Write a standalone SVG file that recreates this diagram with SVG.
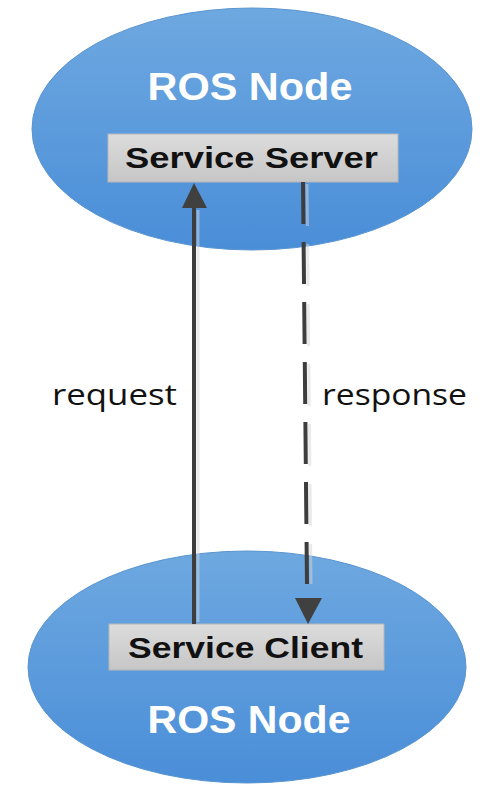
<svg xmlns="http://www.w3.org/2000/svg" width="480" height="793" viewBox="0 0 480 793">
<defs>
<linearGradient id="blue" x1="0" y1="0" x2="0" y2="1">
<stop offset="0" stop-color="#6ea8e0"/>
<stop offset="1" stop-color="#4a8ed8"/>
</linearGradient>
<linearGradient id="gray" x1="0" y1="0" x2="0" y2="1">
<stop offset="0" stop-color="#dcdcdc"/>
<stop offset="1" stop-color="#c6c6c6"/>
</linearGradient>
</defs>
<style>
.node{fill:url(#blue);stroke:#5a95d0;stroke-width:1}
.box{fill:url(#gray);stroke:#b8b8b8;stroke-width:1}
.title{font-family:"Liberation Sans",Arial,sans-serif;font-weight:bold;font-size:38px;fill:#ffffff;text-anchor:middle}
.svc{font-family:"Liberation Sans",Arial,sans-serif;font-weight:bold;font-size:29px;fill:#111111;text-anchor:middle}
.lbl{font-family:"Open Sans","Liberation Sans",sans-serif;font-size:30px;fill:#111111}
.line{stroke:#3d3d3d;stroke-width:4;fill:none}
.shadow{stroke:#d6d6d6;stroke-width:3;fill:none;opacity:0.5}
.head{fill:#404040}
</style>
<rect width="480" height="793" fill="#ffffff"/>
<g id="node-top">
<ellipse class="node" cx="252" cy="129" rx="220" ry="121"/>
<text class="title" x="250" y="100" textLength="205" lengthAdjust="spacingAndGlyphs">ROS Node</text>
</g>
<g id="node-bottom">
<ellipse class="node" cx="247" cy="667" rx="219" ry="116"/>
<text class="title" x="249" y="733" textLength="203" lengthAdjust="spacingAndGlyphs">ROS Node</text>
</g>
<g id="service-server">
<rect class="box" x="108" y="134" width="290" height="48"/>
<text class="svc" x="251.5" y="168" textLength="253" lengthAdjust="spacingAndGlyphs">Service Server</text>
</g>
<g id="service-client">
<rect class="box" x="109" y="624" width="275" height="46"/>
<text class="svc" x="245.5" y="658" textLength="235" lengthAdjust="spacingAndGlyphs">Service Client</text>
</g>
<g id="connectors">
<line class="shadow" x1="198" y1="210" x2="198" y2="622"/>
<line class="line" x1="194" y1="206" x2="194" y2="624"/>
<polygon class="head" points="194,183 182,208 207,208"/>
<line class="shadow" x1="307" y1="184" x2="311" y2="584" stroke-dasharray="42 18"/>
<line class="line" x1="303" y1="182" x2="307" y2="584" stroke-dasharray="42 18"/>
<polygon class="head" points="295,598 322,598 308,624"/>
<text class="lbl" x="52" y="405" textLength="125" lengthAdjust="spacingAndGlyphs">request</text>
<text class="lbl" x="322" y="405" textLength="145" lengthAdjust="spacingAndGlyphs">response</text>
</g>
</svg>
